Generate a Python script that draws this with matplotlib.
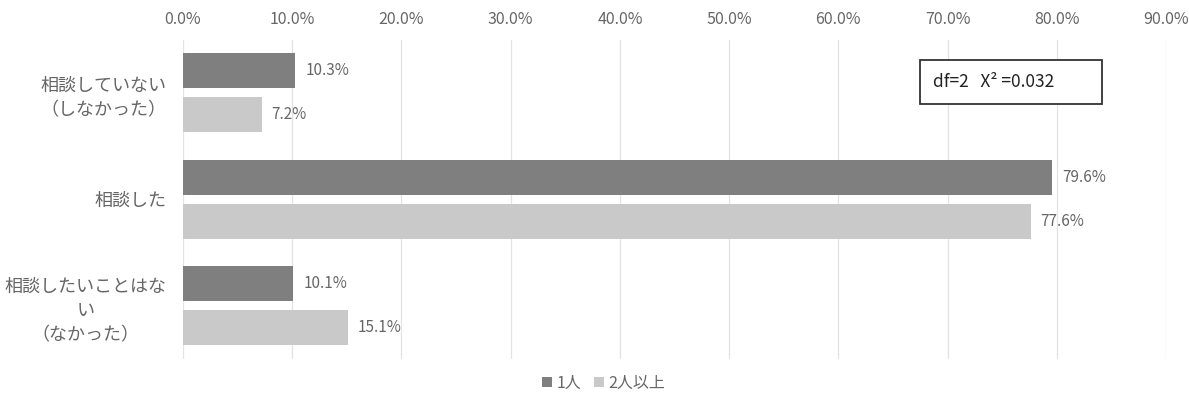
import numpy as np
import matplotlib.pyplot as plt
from matplotlib.ticker import FuncFormatter
from matplotlib.patches import Rectangle

plt.rcParams['font.family'] = ['Noto Sans CJK JP', 'DejaVu Sans']

categories = ["相談していない\n（しなかった）", "相談した", "相談したいことはな\nい\n（なかった）"]
one_person = [10.3, 79.6, 10.1]
two_plus = [7.2, 77.6, 15.1]
series_names = ["1人", "2人以上"]
stat_text = "df=2   X² =0.032"

dark = "#7f7f7f"
light = "#c9c9c9"
txt = "#666666"

W, H = 1189, 399
fig = plt.figure(figsize=(W/100, H/100), dpi=100)
ax = fig.add_axes([183/W, 1-359/H, (1166-183)/W, 319.5/H])

y = np.arange(len(categories))
h = 0.33
off = 0.207
b1 = ax.barh(y - off, one_person, height=h, color=dark, label=series_names[0], zorder=3)
b2 = ax.barh(y + off, two_plus, height=h, color=light, label=series_names[1], zorder=3)

for bars, vals in [(b1, one_person), (b2, two_plus)]:
    for bar, v in zip(bars, vals):
        ax.text(v + 0.9, bar.get_y() + bar.get_height()/2, f"{v:.1f}%",
                va='center', ha='left', fontsize=11, color=txt)

ax.set_xlim(0, 90)
ax.set_ylim(2.5, -0.5)
ax.set_xticks(np.arange(0, 91, 10))
ax.xaxis.set_major_formatter(FuncFormatter(lambda v, p: f"{v:.1f}%"))
ax.xaxis.tick_top()
ax.tick_params(axis='x', length=0, labelsize=11.5, labelcolor=txt, pad=8)
ax.set_yticks(y)
ax.set_yticklabels(categories, fontsize=13, color=txt, linespacing=1.45)
ax.tick_params(axis='y', length=0, pad=12)
for lbl in ax.get_yticklabels():
    lbl.set_horizontalalignment('right')
    lbl.set_multialignment('center')
ax.grid(axis='x', color='#e3e3e3', linewidth=0.9, zorder=0)
for s in ax.spines.values():
    s.set_visible(False)

# stats box
fig.patches.append(Rectangle((920/W, 1-104/H), 182/W, 44/H, transform=fig.transFigure,
                             fc='white', ec='#333333', lw=1.3, zorder=5))
fig.text(933/W, 1-82/H, stat_text, fontsize=12.5, color='#222222', va='center', ha='left', zorder=6)

fig.legend(handles=[b1, b2], labels=series_names, loc='center', bbox_to_anchor=(604/W, 1-383/H),
           ncol=2, frameon=False, fontsize=11.5, handlelength=0.6, handleheight=0.6,
           handletextpad=0.3, columnspacing=0.8, labelcolor=txt)

fig.savefig("out.png", dpi=100)
